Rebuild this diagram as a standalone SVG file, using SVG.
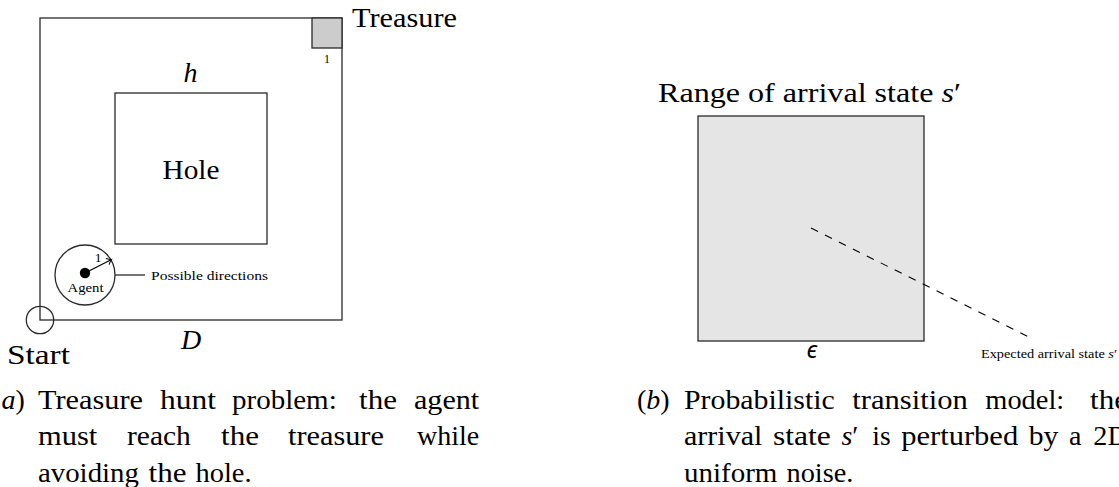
<svg xmlns="http://www.w3.org/2000/svg" width="1119" height="487" viewBox="0 0 1119 487">
<style>
text{font-family:"Liberation Serif","DejaVu Serif",serif;fill:#000}
.big{font-size:28px}
.sm{font-size:13.5px}
.xs{font-size:12px}
.it{font-style:italic}
.edge{fill:none;stroke:#2a2a2a;stroke-width:1.3}
.mid{text-anchor:middle}
.eps{font-family:"Noto Sans","DejaVu Serif",serif;font-size:24px}
</style>
<defs>
<marker id="to" markerUnits="userSpaceOnUse" markerWidth="12" markerHeight="12" refX="0" refY="0" viewBox="-6 -6 12 12" orient="auto">
<path d="M-4.5,-3.5 Q-1.5,-0.6 0,0 Q-1.5,0.6 -4.5,3.5" fill="none" stroke="#000" stroke-width="1.1"/>
</marker>
</defs>
<rect width="1119" height="487" fill="#fff"/>

<g id="world">
<rect x="40" y="18" width="302" height="302" class="edge"/>
<text class="big mid it" x="190.5" y="82">h</text>
<text class="big mid it" x="191" y="349">D</text>
</g>
<g id="treasure">
<rect x="312" y="18" width="30" height="30" fill="#cccccc" stroke="#2a2a2a" stroke-width="1.3"/>
<text class="xs mid" x="327" y="63">1</text>
<text class="big" x="352" y="27" textLength="105" lengthAdjust="spacingAndGlyphs">Treasure</text>
</g>
<g id="hole">
<rect x="115" y="93" width="152" height="151" class="edge"/>
<text class="big mid" x="191" y="179" textLength="57" lengthAdjust="spacingAndGlyphs">Hole</text>
</g>
<g id="agent">
<circle cx="85" cy="275" r="30" class="edge"/>
<circle cx="85" cy="273" r="5.2" fill="#000"/>
<text class="sm mid" x="98" y="262">1</text>
<text class="sm mid" x="85.5" y="292" textLength="36" lengthAdjust="spacingAndGlyphs">Agent</text>
<text class="sm" x="151" y="280" textLength="117" lengthAdjust="spacingAndGlyphs">Possible directions</text>
</g>
<g id="start">
<circle cx="40" cy="320" r="13.7" class="edge"/>
<text class="big" x="7" y="364" textLength="63" lengthAdjust="spacingAndGlyphs">Start</text>
</g>

<g id="range">
<rect x="698" y="116" width="226" height="225" fill="#e5e5e5" stroke="#2a2a2a" stroke-width="1.3"/>
<text class="big" x="658" y="102" textLength="303" lengthAdjust="spacingAndGlyphs">Range of arrival state <tspan class="it">s</tspan>′</text>
<text class="eps mid it" x="812" y="358">ϵ</text>
</g>
<g id="expected">
<text class="sm" x="981" y="358" textLength="136" lengthAdjust="spacingAndGlyphs">Expected arrival state <tspan class="it">s</tspan>′</text>
</g>

<g id="connectors">
<line x1="85" y1="273" x2="111.5" y2="259.5" stroke="#000" stroke-width="1.2" marker-end="url(#to)"/>
<line x1="115" y1="275" x2="145" y2="275" stroke="#2a2a2a" stroke-width="1.3"/>
<line x1="811" y1="228" x2="1032" y2="338.5" stroke="#000" stroke-width="1.1" stroke-dasharray="7.8 7.8"/>
</g>

<g id="caption-a" class="big">
<text x="1.6" y="408.5"><tspan class="it">a</tspan>)</text>
<text x="38" y="408.5" textLength="105" lengthAdjust="spacingAndGlyphs">Treasure</text>
<text x="160" y="408.5" textLength="56" lengthAdjust="spacingAndGlyphs">hunt</text>
<text x="232" y="408.5" textLength="104.7" lengthAdjust="spacingAndGlyphs">problem:</text>
<text x="359" y="408.5" textLength="38" lengthAdjust="spacingAndGlyphs">the</text>
<text x="414" y="408.5" textLength="65.2" lengthAdjust="spacingAndGlyphs">agent</text>
<text x="38" y="445" textLength="59.3" lengthAdjust="spacingAndGlyphs">must</text>
<text x="127" y="445" textLength="63.8" lengthAdjust="spacingAndGlyphs">reach</text>
<text x="221" y="445" textLength="38" lengthAdjust="spacingAndGlyphs">the</text>
<text x="288" y="445" textLength="95.9" lengthAdjust="spacingAndGlyphs">treasure</text>
<text x="417" y="445" textLength="62.2" lengthAdjust="spacingAndGlyphs">while</text>
<text x="38" y="481.5" textLength="100.9" lengthAdjust="spacingAndGlyphs">avoiding</text>
<text x="148.5" y="481.5" textLength="38" lengthAdjust="spacingAndGlyphs">the</text>
<text x="195.5" y="481.5" textLength="56.1" lengthAdjust="spacingAndGlyphs">hole.</text>
</g>
<g id="caption-b" class="big">
<text x="637" y="408.5">(<tspan class="it">b</tspan>)</text>
<text x="684" y="408.5" textLength="150.8" lengthAdjust="spacingAndGlyphs">Probabilistic</text>
<text x="852.3" y="408.5" textLength="115.5" lengthAdjust="spacingAndGlyphs">transition</text>
<text x="985.3" y="408.5" textLength="78.9" lengthAdjust="spacingAndGlyphs">model:</text>
<text x="1090" y="408.5" textLength="38" lengthAdjust="spacingAndGlyphs">the</text>
<text x="684" y="445" textLength="78.3" lengthAdjust="spacingAndGlyphs">arrival</text>
<text x="773" y="445" textLength="57.8" lengthAdjust="spacingAndGlyphs">state</text>
<text x="841.4" y="445"><tspan class="it">s</tspan>′</text>
<text x="872.3" y="445" textLength="18.3" lengthAdjust="spacingAndGlyphs">is</text>
<text x="901.2" y="445" textLength="117" lengthAdjust="spacingAndGlyphs">perturbed</text>
<text x="1028.8" y="445" textLength="29.6" lengthAdjust="spacingAndGlyphs">by</text>
<text x="1069" y="445">a</text>
<text x="1093.3" y="445" textLength="34.5" lengthAdjust="spacingAndGlyphs">2D</text>
<text x="684" y="481.5" textLength="93.4" lengthAdjust="spacingAndGlyphs">uniform</text>
<text x="786.5" y="481.5" textLength="66.9" lengthAdjust="spacingAndGlyphs">noise.</text>
</g>
</svg>
